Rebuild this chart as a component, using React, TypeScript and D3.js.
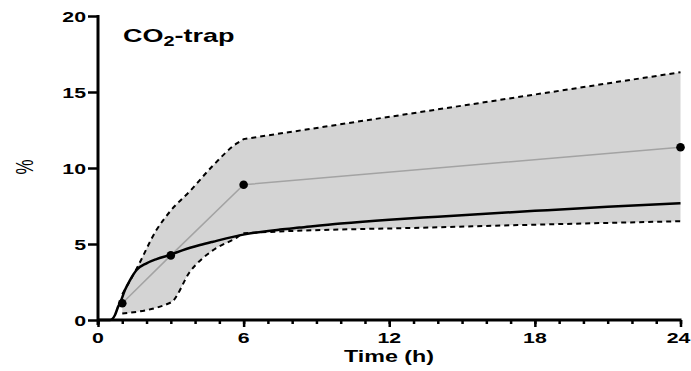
import { useEffect, useRef } from 'react';
import * as d3 from 'd3';

// measured means (gray line + dots)
const sampleTimes = [1, 3, 6, 24];
const sampleMeans = [1.1, 4.25, 8.9, 11.37];

// upper dashed envelope
const upperTimes = [1, 1.6, 2.4, 3, 3.8, 4.7, 5.7, 6, 24];
const upperValues = [1.7, 3.4, 5.9, 7.2, 8.5, 10.1, 11.6, 11.9, 16.3];

// lower dashed envelope
const lowerTimes = [1, 3, 3.8, 4.7, 5.7, 6, 14, 24];
const lowerValues = [0.42, 1.15, 3.2, 4.55, 5.4, 5.7, 6.1, 6.5];

// fitted curve (black)
const fitTimes = [0, 0.5, 0.7, 0.83, 0.93, 1.11, 1.32, 1.59, 2.0, 2.41, 2.96, 3.5, 4.2, 4.74, 6.1, 7.5, 8.3, 10, 12, 14, 18, 21, 24];
const fitValues = [0, 0, 0.33, 0.88, 1.2, 1.97, 2.63, 3.29, 3.73, 4.01, 4.28, 4.6, 4.93, 5.15, 5.65, 5.95, 6.08, 6.35, 6.6, 6.8, 7.18, 7.45, 7.68];

const xTicks = [0, 6, 12, 18, 24];
const yTicks = [0, 5, 10, 15, 20];

const W = 691;
const H = 371;
const STRETCH = 1.42; // the reference's lettering is widened horizontally

export default function App() {
  const svgRef = useRef<SVGSVGElement>(null);

  useEffect(() => {
    const svg = d3.select(svgRef.current);
    svg.selectAll('*').remove();

    const x = d3.scaleLinear().domain([0, 24]).range([98, 680.5]);
    const y = d3.scaleLinear().domain([0, 20]).range([320, 16]);
    const font = '"Liberation Sans", Arial, sans-serif';

    const upper = upperTimes.map((t, i) => [t, upperValues[i]] as [number, number]);
    const lower = lowerTimes.map((t, i) => [t, lowerValues[i]] as [number, number]);
    const fit = fitTimes.map((t, i) => [t, fitValues[i]] as [number, number]);
    const means = sampleTimes.map((t, i) => [t, sampleMeans[i]] as [number, number]);

    const smooth = d3.line<[number, number]>()
      .x(d => x(d[0]))
      .y(d => y(d[1]))
      .curve(d3.curveMonotoneX);
    const straight = d3.line<[number, number]>()
      .x(d => x(d[0]))
      .y(d => y(d[1]));

    // upper envelope: smooth up to 6 h, straight from 6 h to 24 h
    const upperHead = upper.slice(0, upper.length - 1);
    const upperTail = upper[upper.length - 1];
    const upPath = (smooth(upperHead) || '') + `L${x(upperTail[0])},${y(upperTail[1])}`;
    const lowPath = smooth(lower) || '';
    const lowRev = smooth([...lower].reverse()) || '';

    svg.append('path')
      .attr('d', upPath + 'L' + lowRev.slice(1) + 'Z')
      .attr('fill', '#d4d4d4')
      .attr('stroke', 'none');

    [upPath, lowPath].forEach(d => {
      svg.append('path')
        .attr('d', d)
        .attr('fill', 'none')
        .attr('stroke', '#000')
        .attr('stroke-width', 2)
        .attr('stroke-dasharray', '5,4');
    });

    // mean line
    svg.append('path')
      .attr('d', straight(means))
      .attr('fill', 'none')
      .attr('stroke', '#a3a3a3')
      .attr('stroke-width', 1.5);

    // fitted curve
    svg.append('path')
      .attr('d', smooth(fit))
      .attr('fill', 'none')
      .attr('stroke', '#000')
      .attr('stroke-width', 2.5);

    svg.selectAll('circle.pt')
      .data(means)
      .join('circle')
      .attr('class', 'pt')
      .attr('cx', d => x(d[0]))
      .attr('cy', d => y(d[1]))
      .attr('r', 4.3)
      .attr('fill', '#000');

    // y axis
    const yAxis = svg.append('g').attr('transform', `translate(${x(0)},0)`);
    yAxis.call(d3.axisLeft(y).tickValues(yTicks).tickSize(10).tickFormat(() => ''));
    yAxis.select('.domain').remove();
    yAxis.selectAll('.tick line').attr('stroke-width', 2.5);
    yAxis.append('line')
      .attr('x1', 0).attr('x2', 0)
      .attr('y1', y(20) - 1).attr('y2', 325)
      .attr('stroke', '#000').attr('stroke-width', 3);

    svg.selectAll('text.ylab')
      .data(yTicks)
      .join('text')
      .attr('class', 'ylab')
      .attr('transform', d => `translate(86,${y(d) + 5.5}) scale(${STRETCH},1)`)
      .attr('text-anchor', 'end')
      .attr('font-family', font)
      .attr('font-weight', 'bold')
      .attr('font-size', 15)
      .text(d => d);

    // x axis: minor ticks every hour, major every 6 h
    const xMinor = svg.append('g').attr('transform', `translate(0,${y(0)})`);
    xMinor.call(d3.axisBottom(x).tickValues(d3.range(0, 25, 1)).tickSize(4).tickFormat(() => ''));
    xMinor.select('.domain').remove();
    xMinor.selectAll('.tick line').attr('stroke-width', 2.5);
    const xMajor = svg.append('g').attr('transform', `translate(0,${y(0)})`);
    xMajor.call(d3.axisBottom(x).tickValues(xTicks).tickSize(7).tickFormat(() => ''));
    xMajor.select('.domain').remove();
    xMajor.selectAll('.tick line').attr('stroke-width', 2.5);
    xMajor.append('line')
      .attr('x1', x(0)).attr('x2', x(24) + 1)
      .attr('y1', 0).attr('y2', 0)
      .attr('stroke', '#000').attr('stroke-width', 3);

    svg.selectAll('text.xlab')
      .data(xTicks)
      .join('text')
      .attr('class', 'xlab')
      .attr('transform', d => `translate(${d === 24 ? x(d) - 2 : x(d)},342.5) scale(${STRETCH},1)`)
      .attr('text-anchor', 'middle')
      .attr('font-family', font)
      .attr('font-weight', 'bold')
      .attr('font-size', 15)
      .text(d => d);

    svg.append('text')
      .attr('x', 389)
      .attr('y', 362)
      .attr('text-anchor', 'middle')
      .attr('textLength', 90)
      .attr('lengthAdjust', 'spacingAndGlyphs')
      .attr('font-family', font)
      .attr('font-weight', 'bold')
      .attr('font-size', 16)
      .text('Time (h)');

    svg.append('text')
      .attr('transform', `translate(33,167) scale(${STRETCH},1) rotate(-90)`)
      .attr('text-anchor', 'middle')
      .attr('font-family', font)
      .attr('font-size', 17)
      .text('%');

    const title = svg.append('text')
      .attr('transform', `translate(123,42) scale(${STRETCH},1)`)
      .attr('font-family', font)
      .attr('font-weight', 'bold')
      .attr('font-size', 19);
    title.append('tspan').text('CO');
    title.append('tspan').attr('font-size', 14).attr('dy', 4).text('2');
    title.append('tspan').attr('dy', -4).text('-trap');
  }, []);

  return (
    <svg
      ref={svgRef}
      width={W}
      height={H}
      style={{ position: 'absolute', left: 0, top: 0, background: '#fff' }}
    />
  );
}
